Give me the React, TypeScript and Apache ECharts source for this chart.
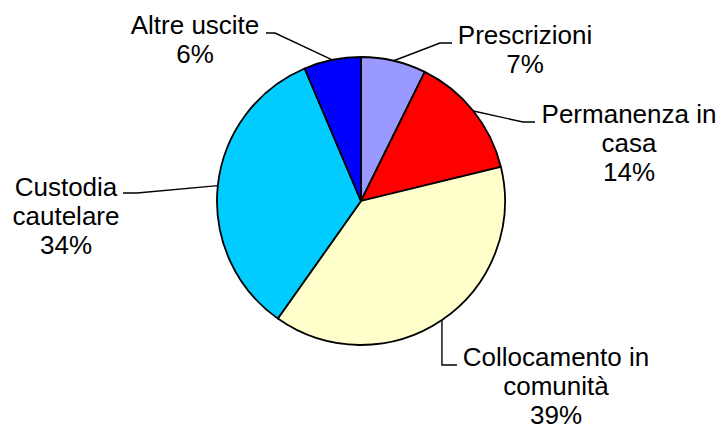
import React, { useEffect, useRef } from "react";
import * as echarts from "echarts";

// Data
const categories = [
  "Prescrizioni",
  "Permanenza in\ncasa",
  "Collocamento in\ncomunità",
  "Custodia\ncautelare",
  "Altre uscite",
];
const shares = [7.3, 13.9, 38.6, 33.8, 6.4];
const sliceColors = ["#9999FF", "#FF0000", "#FFFFCC", "#00CCFF", "#0000FF"];

// Label layout (centre x, top y of text block) and leader-line bends/ends
const labelAnchors: [number, number][] = [
  [525, 20],
  [629, 99],
  [556, 342.5],
  [66, 172.5],
  [195, 10.5],
];
const leaderBends: [number | null, number][] = [
  [440, 43],
  [523, 122],
  [null, 365],
  [137, 193],
  [275, 33],
];
const leaderEnds: [number, number][] = [
  [452, 43],
  [535, 122],
  [457, 365],
  [123, 193],
  [266, 33],
];

export default function App() {
  const ref = useRef<HTMLDivElement>(null);
  useEffect(() => {
    if (!ref.current) return;
    const chart = echarts.init(ref.current, undefined, { renderer: "svg" });
    chart.setOption({
      animation: false,
      backgroundColor: "#ffffff",
      series: [
        {
          type: "pie",
          center: [361, 201],
          radius: 144,
          startAngle: 90,
          clockwise: true,
          avoidLabelOverlap: false,
          percentPrecision: 0,
          data: categories.map((name, i) => ({
            name,
            value: shares[i],
            itemStyle: { color: sliceColors[i] },
          })),
          itemStyle: { borderColor: "#000000", borderWidth: 1.8 },
          label: {
            show: true,
            position: "outside",
            formatter: "{b}\n{d}%",
            fontFamily: "'Liberation Sans', Arial, sans-serif",
            fontSize: 26,
            lineHeight: 29,
            color: "#000000",
          },
          labelLine: {
            show: true,
            length: 15,
            length2: 10,
            lineStyle: { color: "#000000", width: 1.4 },
          },
          emphasis: { disabled: true },
          labelLayout: (params: any) => {
            const i = params.dataIndex;
            const p0 = params.labelLinePoints ? params.labelLinePoints[0] : null;
            const b = leaderBends[i];
            const res: any = {
              x: labelAnchors[i][0],
              y: labelAnchors[i][1],
              align: "center",
              verticalAlign: "top",
            };
            if (p0) {
              res.labelLinePoints = [
                [p0[0], p0[1]],
                [b[0] == null ? p0[0] : b[0], b[1]],
                [leaderEnds[i][0], leaderEnds[i][1]],
              ];
            }
            return res;
          },
        },
      ],
    });
    return () => chart.dispose();
  }, []);
  return (
    <div
      ref={ref}
      style={{ position: "fixed", left: 0, top: 0, width: 722, height: 430 }}
    />
  );
}
